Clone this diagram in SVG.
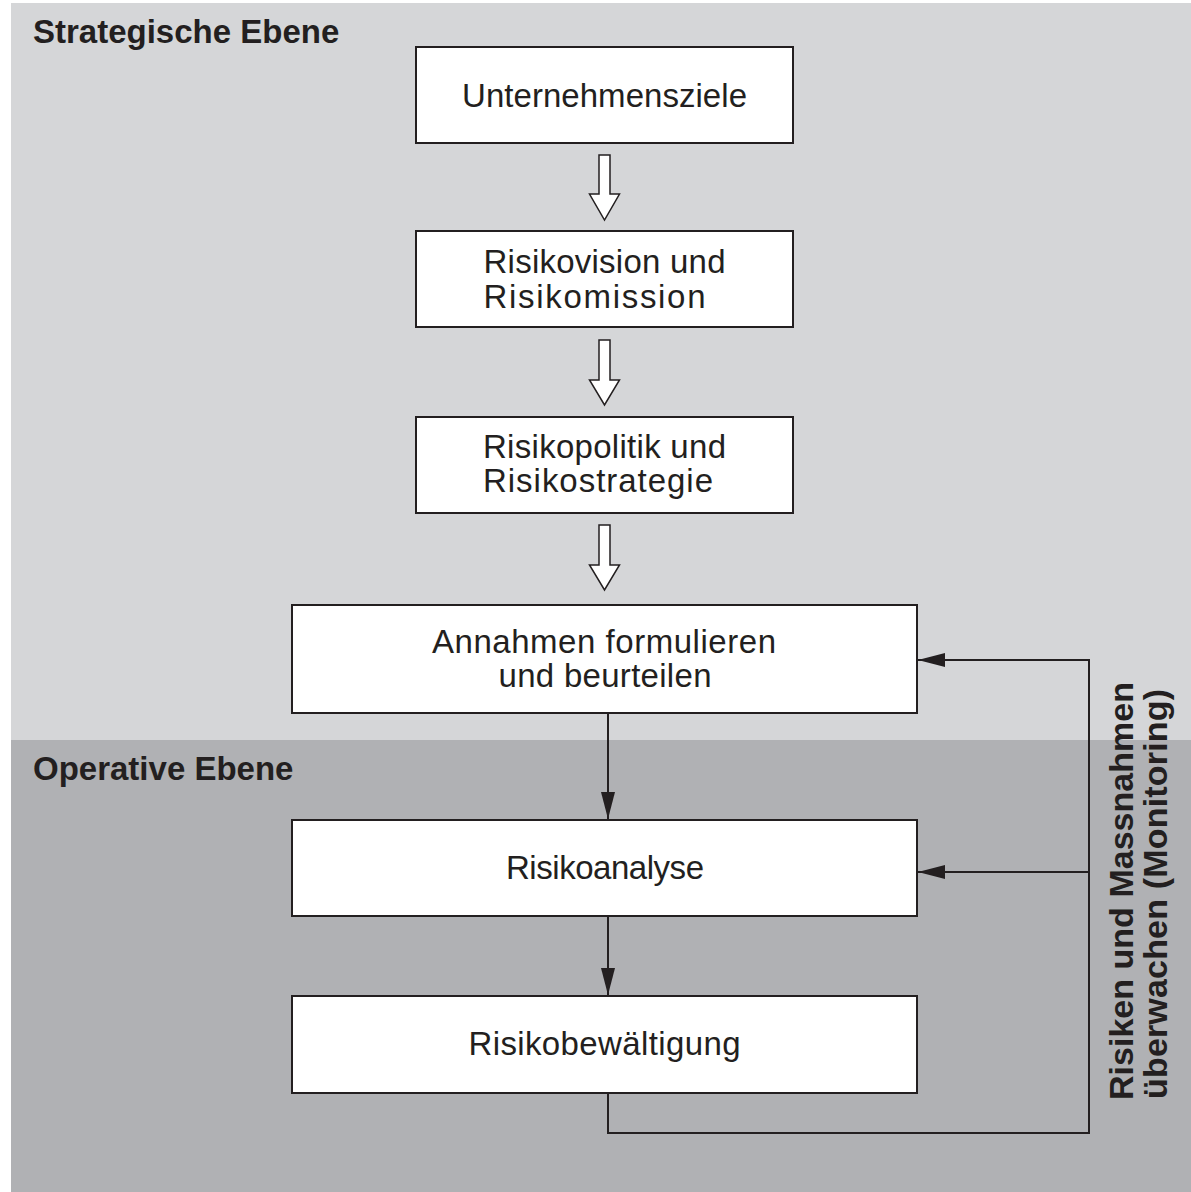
<svg xmlns="http://www.w3.org/2000/svg" width="1191" height="1192" viewBox="0 0 1191 1192">
<style>
.box{fill:#ffffff;stroke:#231f20;stroke-width:2}
.t{font-family:"Liberation Sans",Arial,sans-serif;font-size:33px;fill:#231f20}
.h{font-family:"Liberation Sans",Arial,sans-serif;font-size:33px;font-weight:bold;fill:#231f20}
.v{font-family:"Liberation Sans",Arial,sans-serif;font-size:34px;font-weight:bold;fill:#231f20}
.c{fill:none;stroke:#231f20;stroke-width:2}
.hollow{fill:#ffffff;stroke:#231f20;stroke-width:1.5;stroke-linejoin:miter}
</style>
<defs>
<marker id="ah" viewBox="0 0 27 14" refX="27" refY="7" markerWidth="27" markerHeight="14" markerUnits="userSpaceOnUse" orient="auto">
<path d="M0 0 L27 7 L0 14 Z" fill="#231f20"/>
</marker>
</defs>
<rect width="1191" height="1192" fill="#ffffff"/>
<g id="zones">
<rect x="11" y="3" width="1180" height="737" fill="#d5d6d8"/>
<rect x="11" y="740" width="1180" height="452" fill="#b0b1b4"/>
<text class="h" x="33" y="43">Strategische Ebene</text>
<text class="h" x="33" y="780">Operative Ebene</text>
</g>
<g id="connectors">
<polygon class="hollow" points="599,155 610,155 610,194 619.5,194 604.5,220 589.5,194 599,194"/>
<polygon class="hollow" points="599,340 610,340 610,380 619.5,380 604.5,405 589.5,380 599,380"/>
<polygon class="hollow" points="599,525 610,525 610,565 619.5,565 604.5,590 589.5,565 599,565"/>
<path class="c" d="M608 713 V819" marker-end="url(#ah)"/>
<path class="c" d="M608 916 V995" marker-end="url(#ah)"/>
<path class="c" d="M608 1093 V1133 H1089 V660 H918" marker-end="url(#ah)"/>
<path class="c" d="M1089 872 H918" marker-end="url(#ah)"/>
</g>
<g id="n1">
<rect class="box" x="416" y="47" width="377" height="96"/>
<text class="t" x="604.5" y="107" text-anchor="middle" textLength="285" lengthAdjust="spacing">Unternehmensziele</text>
</g>
<g id="n2">
<rect class="box" x="416" y="231" width="377" height="96"/>
<text class="t" x="483.5" y="273" textLength="242" lengthAdjust="spacing">Risikovision und</text>
<text class="t" x="483.5" y="308" textLength="222" lengthAdjust="spacing">Risikomission</text>
</g>
<g id="n3">
<rect class="box" x="416" y="417" width="377" height="96"/>
<text class="t" x="483" y="458" textLength="243" lengthAdjust="spacing">Risikopolitik und</text>
<text class="t" x="483" y="492" textLength="230" lengthAdjust="spacing">Risikostrategie</text>
</g>
<g id="n4">
<rect class="box" x="292" y="605" width="625" height="108"/>
<text class="t" x="604" y="653" text-anchor="middle" textLength="344" lengthAdjust="spacing">Annahmen formulieren</text>
<text class="t" x="605" y="687" text-anchor="middle" textLength="213" lengthAdjust="spacing">und beurteilen</text>
</g>
<g id="n5">
<rect class="box" x="292" y="820" width="625" height="96"/>
<text class="t" x="605" y="879" text-anchor="middle" textLength="198" lengthAdjust="spacing">Risikoanalyse</text>
</g>
<g id="n6">
<rect class="box" x="292" y="996" width="625" height="97"/>
<text class="t" x="604.5" y="1055" text-anchor="middle" textLength="272" lengthAdjust="spacing">Risikobewältigung</text>
</g>
<g id="side-label">
<text class="v" transform="translate(1133,1100) rotate(-90)" textLength="418" lengthAdjust="spacing">Risiken und Massnahmen</text>
<text class="v" transform="translate(1167,1099) rotate(-90)" textLength="410" lengthAdjust="spacing">überwachen (Monitoring)</text>
</g>
</svg>
